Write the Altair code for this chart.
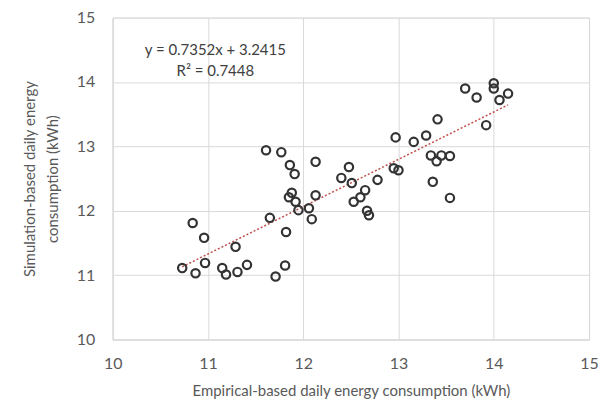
import altair as alt
import pandas as pd

# Empirical-based (x) and simulation-based (y) daily energy consumption, kWh
empirical = [10.73, 10.84, 10.96, 11.29, 10.87, 10.97, 11.15, 11.19, 11.31, 11.41,
             11.65, 11.82, 11.81, 11.71, 11.61, 11.77, 11.86, 11.91, 12.13, 11.88,
             11.92, 12.13, 11.95, 12.06, 12.09, 11.85, 12.48, 12.40, 12.51, 12.53,
             12.60, 12.65, 12.69, 12.67, 12.78, 12.97, 12.95, 13.00, 13.16, 13.29,
             13.41, 13.34, 13.45, 13.54, 13.40, 13.36, 13.54, 13.70, 13.82, 14.00,
             14.00, 14.15, 14.06, 13.92]
simulation = [11.11, 11.81, 11.58, 11.44, 11.03, 11.19, 11.11, 11.01, 11.05, 11.16,
              11.89, 11.67, 11.15, 10.98, 12.94, 12.91, 12.71, 12.57, 12.76, 12.28,
              12.14, 12.24, 12.01, 12.04, 11.87, 12.21, 12.68, 12.51, 12.43, 12.14,
              12.21, 12.32, 11.93, 12.00, 12.48, 13.14, 12.66, 12.63, 13.07, 13.17,
              13.42, 12.86, 12.86, 12.85, 12.77, 12.45, 12.20, 13.90, 13.76, 13.98,
              13.90, 13.82, 13.72, 13.33]

slope = 0.7352
intercept = 3.2415
eq_lines = ["y = 0.7352x + 3.2415", "R² = 0.7448"]
x_title = "Empirical-based daily energy consumption (kWh)"
y_title = ["Simulation-based daily energy", "consumption (kWh)"]
ticks = [10, 11, 12, 13, 14, 15]

df = pd.DataFrame({"x": empirical, "y": simulation})
xmin, xmax = min(empirical), max(empirical)
trend = pd.DataFrame({"x": [xmin, xmax], "y": [slope * xmin + intercept, slope * xmax + intercept]})

FONT = "Lato"
TXT = "#595959"

xscale = alt.Scale(domain=[10, 15], nice=False, zero=False)
yscale = alt.Scale(domain=[10, 15], nice=False, zero=False)

xaxis = alt.Axis(values=ticks, format="d", title=x_title, grid=True, gridColor="#d9d9d9", ticks=False,
                 domainColor="#d9d9d9", labelFont=FONT, labelFontSize=16, labelColor=TXT,
                 labelPadding=16, titleFont=FONT, titleFontSize=15, titleFontWeight="normal",
                 titleColor=TXT, titlePadding=12, labelFlush=False)
yaxis = alt.Axis(values=ticks, format="d", title=y_title, grid=True, gridColor="#d9d9d9", ticks=False,
                 domainColor="#d9d9d9", labelFont=FONT, labelFontSize=16, labelColor=TXT,
                 labelPadding=18, titleFont=FONT, titleFontSize=15, titleFontWeight="normal",
                 titleColor=TXT, titlePadding=16, labelFlush=False, titleLineHeight=23)

points = alt.Chart(df).mark_point(shape="circle", filled=False, size=70, strokeWidth=2.2,
                                  color="#333333", opacity=1).encode(
    x=alt.X("x:Q", scale=xscale, axis=xaxis),
    y=alt.Y("y:Q", scale=yscale, axis=yaxis),
)

line = alt.Chart(trend).mark_line(color="#c0504d", strokeDash=[2, 2], strokeWidth=1.5).encode(
    x=alt.X("x:Q", scale=xscale),
    y=alt.Y("y:Q", scale=yscale),
)

eq_df = pd.DataFrame({"t": [eq_lines[0]]})
r2_df = pd.DataFrame({"t": [eq_lines[1]]})
eq = alt.Chart(eq_df).mark_text(font=FONT, fontSize=15, color="#404040").encode(
    text="t:N", x=alt.value(103), y=alt.value(32))
r2 = alt.Chart(r2_df).mark_text(font=FONT, fontSize=15, color="#404040").encode(
    text="t:N", x=alt.value(103), y=alt.value(54))

chart = alt.layer(line, points, eq, r2).properties(
    width=478, height=323,
    autosize=alt.AutoSizeParams(type="none"),
    padding={"left": 105, "top": 9, "right": 15, "bottom": 60},
).configure_view(stroke=None).configure(background="white")

chart.save("out.html", embed_options={"renderer": "svg", "actions": False})
